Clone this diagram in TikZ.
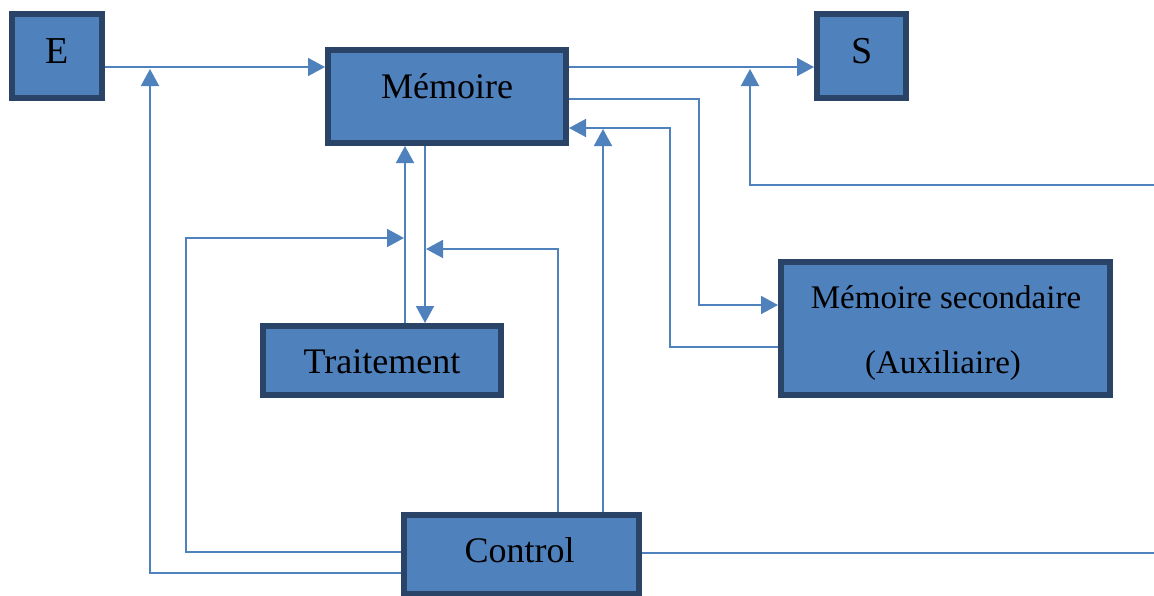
\documentclass[tikz,border=0pt]{standalone}
\usepackage{fontspec}
\setmainfont{Liberation Serif}
\usetikzlibrary{arrows.meta}
\definecolor{boxfill}{HTML}{4F81BD}
\definecolor{boxedge}{HTML}{2A4468}
\definecolor{wire}{HTML}{4F81BD}
\begin{document}
\begin{tikzpicture}[x=1pt,y=-1pt,
  block/.style={draw=boxedge, line width=6pt, fill=boxfill, rectangle, inner sep=0pt},
  lbl/.style={anchor=base, inner sep=0pt, text=black, font=\fontsize{36}{40}\selectfont},
  biglbl/.style={lbl, font=\fontsize{38}{42}\selectfont},
  smalllbl/.style={lbl, font=\fontsize{33}{38}\selectfont},
  conn/.style={draw=wire, line width=1.8pt},
  arr/.style={conn, -{Triangle[length=17pt,width=18pt]}},
]
\useasboundingbox (0,0) rectangle (1154,595);

% blocks
\node[block, minimum width=90, minimum height=84] (E) at (57,56) {};
\node[block, minimum width=89, minimum height=84] (S) at (861.5,56) {};
\node[block, minimum width=238, minimum height=93] (Mem) at (447,96.5) {};
\node[block, minimum width=238, minimum height=69] (Trait) at (382,360.5) {};
\node[block, minimum width=329, minimum height=133] (MS) at (945.5,328.5) {};
\node[block, minimum width=235, minimum height=79] (Ctrl) at (521.5,554.5) {};

% labels
\node[biglbl] (Etxt) at (57,63) {E};
\node[biglbl] (Stxt) at (862,63) {S};
\node[lbl] (Memtxt) at (447,98) {Mémoire};
\node[lbl] (Traittxt) at (382,373) {Traitement};
\node[smalllbl] (MStxtA) at (946,308) {Mémoire secondaire};
\node[smalllbl] (MStxtB) at (943,373) {(Auxiliaire)};
\node[lbl] (Ctrltxt) at (519.5,562) {Control};

% free ends at the right margin
\coordinate (rin) at (1154,185);
\coordinate (rout) at (1154,553);

% data paths
\draw[arr] (E.east |- 0,67) -- (Mem.west |- 0,67);
\draw[arr] (Mem.east |- 0,67) -- (S.west |- 0,67);
\draw[arr] (rin) -| (750,69);
\draw[arr] (Mem.east |- 0,99) -| (699,305) -- (MS.west |- 0,305);
\draw[arr] (MS.west |- 0,347) -| (670,128) -- (Mem.east |- 0,128);
\draw[arr] (Trait.north -| 405,0) -- (Mem.south -| 405,0);
\draw[arr] (Mem.south -| 425,0) -- (Trait.north -| 425,0);

% control paths
\draw[arr] (Ctrl.west |- 0,573) -| (150,69);
\draw[arr] (Ctrl.west |- 0,552) -| (186,238) -- (404,238);
\draw[arr] (Ctrl.north -| 558,0) |- (426,249);
\draw[arr] (Ctrl.north -| 603,0) -- (603,129);
\draw[conn] (Ctrl.east |- 0,553) -- (rout);
\end{tikzpicture}
\end{document}
